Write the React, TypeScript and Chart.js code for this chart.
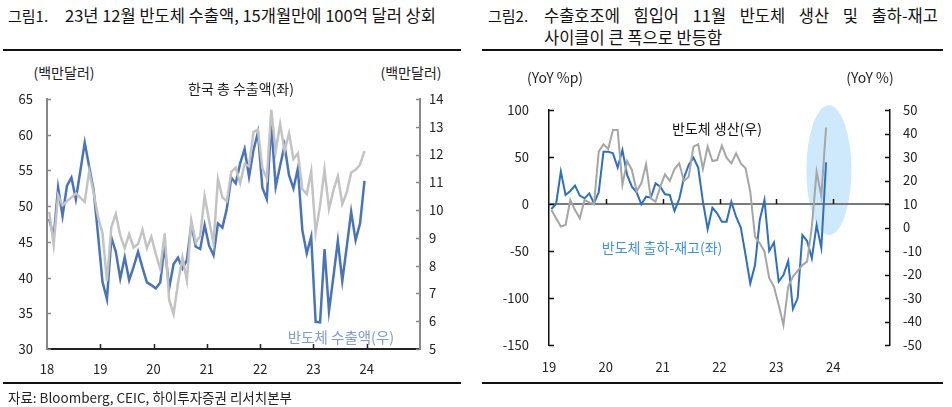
import React, { useEffect, useRef } from 'react';
import { Chart, registerables } from 'chart.js';
Chart.register(...registerables);

const FONT = '"Noto Sans CJK KR", "Noto Sans", sans-serif';

// ---- Figure 1: Korean exports (left, bn USD) and semiconductor exports (right, bn USD), monthly from Jan 2018
const years1 = ['18', '19', '20', '21', '22', '23', '24'];
const totalExports = [
  49.2, 44.6, 51.5, 50.1, 50.7, 51.2, 51.8, 51.2, 50.6, 54.9, 51.9, 48.5,
  46.2, 39.5, 47.1, 48.9, 45.9, 44.1, 46.1, 44.2, 44.7, 46.7, 44.1, 45.7,
  43.3, 41.2, 46.2, 36.9, 34.9, 39.2, 42.8, 39.6, 48.0, 44.9, 45.8, 51.4,
  48.0, 44.8, 53.8, 51.2, 50.7, 54.8, 55.4, 53.2, 55.9, 55.6, 60.4, 60.7,
  55.3, 53.9, 63.5, 57.7, 61.5, 57.7, 60.2, 56.6, 57.4, 52.4, 51.7, 54.9,
  46.3, 50.1, 55.1, 49.6, 52.2, 54.2, 50.3, 51.9, 54.7, 55.1, 55.8, 57.7,
];
const semiExports = [
  9.68, 9.01, 10.81, 9.79, 10.88, 11.17, 10.39, 11.4, 12.43, 11.56, 10.72, 9.1,
  7.42, 6.8, 9.01, 8.5, 7.54, 8.3, 7.48, 7.96, 8.5, 7.93, 7.4, 7.3,
  7.18, 7.39, 8.74, 7.18, 8.05, 8.29, 7.9, 8.2, 9.49, 8.68, 8.6, 9.46,
  8.72, 8.38, 9.52, 9.37, 10.06, 11.17, 10.96, 11.68, 12.2, 11.2, 12.16, 12.8,
  10.81, 10.4, 13.12, 10.84, 11.6, 12.34, 11.26, 10.78, 11.5, 9.28, 8.44, 9.04,
  5.98, 5.96, 8.6, 6.37, 7.6, 8.89, 7.45, 8.68, 9.94, 8.92, 9.52, 11.05,
];

// ---- Figure 2: semiconductor shipment-inventory gap (left, %p) and production (right, %), monthly from Jan 2019
const years2 = ['19', '20', '21', '22', '23', '24'];
const shipInvGap = [
  -5.3, 0, 34.4, 9.6, 13.8, 19.5, 8.9, 6.0, 11.3, 0.7, 12.4, 55.7,
  55.7, 53.9, 38.7, 57.4, 30.9, 18.4, 12.4, -0.4, 7.8, 6.7, 22.0, 18.4,
  10.3, 9.6, -7.4, 5.3, 28.0, 41.5, 49.3, 38.7, 2.5, -26.6, -3.9, -9.9,
  -18.8, -18.8, 2.5, -13.5, -25.2, -54.3, -84.4, -64.9, -17.0, 4.3, -50.0, -40.8,
  -82.6, -75.5, -60.6, -111.7, -100.4, -33.0, -39.4, -57.8, -22.3, -46.5, 44.3,
];
const semiProduction = [
  7.4, 3.9, 0.4, 1.1, 11.7, 7.4, 3.9, 11.7, 10.7, 9.9, 32.3, 35.4,
  33.4, 41.5, 41.5, 18.1, 28.3, 24.5, 15.5, 18.8, 26.9, 12.4, 11.0, 17.4,
  22.6, 19.8, 24.9, 27.3, 19.8, 21.6, 34.4, 35.4, 24.9, 34.4, 28.3, 28.7,
  34.8, 29.7, 27.3, 31.6, 27.3, 25.2, 15.2, -3.9, -6.7, -10.3, -21.6, -25.2,
  -33.0, -41.5, -25.2, -20.9, -18.5, -16.0, -14.5, 0.4, 23.8, 13.5, 42.5,
];

const toPoints = (arr: number[]) => arr.map((v, i) => ({ x: i + 0.5, y: v }));

const axisDeco = {
  id: 'axisDeco',
  beforeDatasetsDraw(chart: any, _a: any, opts: any) {
    const { ctx, chartArea: a } = chart;
    if (opts.ellipse) {
      const e = opts.ellipse;
      const xs = chart.scales.x;
      const ys = chart.scales.y;
      const cx = xs.getPixelForValue(e.x);
      const cy = ys.getPixelForValue(e.y);
      const rx = Math.abs(xs.getPixelForValue(e.x + e.dx) - cx);
      const ry = Math.abs(ys.getPixelForValue(e.y + e.dy) - cy);
      ctx.save();
      ctx.fillStyle = e.color;
      ctx.beginPath();
      ctx.ellipse(cx, cy, rx, ry, 0, 0, Math.PI * 2);
      ctx.fill();
      ctx.restore();
    }
    if (opts.zeroLine) {
      const z = opts.zeroLine;
      const py = chart.scales.y.getPixelForValue(0);
      ctx.save();
      ctx.strokeStyle = z.color;
      ctx.lineWidth = z.width;
      ctx.beginPath();
      ctx.moveTo(a.left, py);
      ctx.lineTo(a.right, py);
      ctx.stroke();
      ctx.restore();
    }
  },
  afterDatasetsDraw(chart: any, _a: any, opts: any) {
    const { ctx, chartArea: a } = chart;
    (opts.ticks || []).forEach((t: any) => {
      const s = chart.scales[t.id];
      ctx.save();
      ctx.strokeStyle = t.color;
      ctx.lineWidth = t.width;
      s.ticks.forEach((tk: any) => {
        if (t.skip && t.skip.includes(tk.value)) return;
        const p = Math.round(s.getPixelForValue(tk.value)) + 0.5;
        ctx.beginPath();
        if (t.side === 'left') {
          ctx.moveTo(a.left, p);
          ctx.lineTo(a.left + t.len, p);
        } else if (t.side === 'right') {
          ctx.moveTo(a.right, p);
          ctx.lineTo(a.right - t.len, p);
        } else if (t.side === 'bottom') {
          ctx.moveTo(p, a.bottom);
          ctx.lineTo(p, a.bottom - t.len);
        } else if (t.side === 'zero') {
          const py = chart.scales.y.getPixelForValue(0);
          ctx.moveTo(p, py);
          ctx.lineTo(p, py - t.len);
        }
        ctx.stroke();
      });
      ctx.restore();
    });
  },
};

function ChartCanvas({ config, left, top, width, height }: any) {
  const ref = useRef<HTMLCanvasElement | null>(null);
  useEffect(() => {
    const c = new Chart(ref.current as HTMLCanvasElement, config);
    return () => c.destroy();
  }, []);
  return (
    <canvas
      ref={ref}
      width={width}
      height={height}
      style={{ position: 'absolute', left, top, width, height }}
    />
  );
}

const tickFont = { family: FONT, size: 13 };
const tickColor = '#222';

const fixW = (w: number) => (s: any) => {
  s.width = w;
  s.paddingTop = 0;
  s.paddingBottom = 0;
};
const fixH = (h: number) => (s: any) => {
  s.height = h;
  s.paddingLeft = 0;
  s.paddingRight = 0;
};

const config1: any = {
  type: 'line',
  data: {
    datasets: [
      {
        data: toPoints(totalExports),
        yAxisID: 'y',
        borderColor: '#c3c3c3',
        borderWidth: 2.5,
        pointRadius: 0,
        tension: 0,
      },
      {
        data: toPoints(semiExports),
        yAxisID: 'y1',
        borderColor: '#4a74b9',
        borderWidth: 2.5,
        pointRadius: 0,
        tension: 0,
      },
    ],
  },
  options: {
    responsive: false,
    animation: false,
    layout: { autoPadding: false, padding: { top: 9, left: 0, right: 0, bottom: 0 } },
    plugins: {
      legend: { display: false },
      tooltip: { enabled: false },
      axisDeco: {
        ticks: [
          { id: 'y', side: 'left', len: 4, color: '#888', width: 1.5 },
          { id: 'y1', side: 'right', len: 4, color: '#888', width: 1.5 },
          { id: 'x', side: 'bottom', len: 5, color: '#222', width: 1.5, skip: [0, 84] },
        ],
      },
    },
    scales: {
      x: {
        type: 'linear',
        min: 0,
        max: 84,
        afterFit: fixH(36),
        grid: { display: false, drawTicks: false },
        border: { display: true, color: '#222', width: 2 },
        ticks: {
          stepSize: 12,
          autoSkip: false,
          maxRotation: 0,
          padding: 12,
          font: tickFont,
          color: tickColor,
          callback: (v: number) => (v % 12 === 0 && v / 12 < years1.length ? years1[v / 12] : ''),
        },
      },
      y: {
        position: 'left',
        min: 30,
        max: 65,
        afterFit: fixW(47),
        grid: { display: false, drawTicks: false },
        border: { display: true, color: '#888', width: 2 },
        ticks: { stepSize: 5, padding: 14, font: tickFont, color: tickColor },
      },
      y1: {
        position: 'right',
        min: 5,
        max: 14,
        afterFit: fixW(56),
        grid: { display: false, drawTicks: false },
        border: { display: true, color: '#888', width: 2 },
        ticks: { stepSize: 1, padding: 9, font: tickFont, color: tickColor },
      },
    },
  },
  plugins: [axisDeco],
};

const config2: any = {
  type: 'line',
  data: {
    datasets: [
      {
        data: toPoints(semiProduction),
        yAxisID: 'y1',
        borderColor: '#a6a6a6',
        borderWidth: 2,
        pointRadius: 0,
        tension: 0,
      },
      {
        data: toPoints(shipInvGap),
        yAxisID: 'y',
        borderColor: '#2f6fc0',
        borderWidth: 2,
        pointRadius: 0,
        tension: 0,
      },
    ],
  },
  options: {
    responsive: false,
    animation: false,
    layout: { autoPadding: false, padding: { top: 15, left: 0, right: 0, bottom: 0 } },
    plugins: {
      legend: { display: false },
      tooltip: { enabled: false },
      axisDeco: {
        ellipse: { x: 59.1, y: 36, dx: 4.75, dy: 69, color: '#cde9fb' },
        zeroLine: { color: '#7a7a7a', width: 2 },
        ticks: [
          { id: 'y', side: 'left', len: 5, color: '#111', width: 1.5 },
          { id: 'y1', side: 'right', len: 5, color: '#111', width: 1.5 },
          { id: 'x', side: 'zero', len: 5, color: '#111', width: 1.5, skip: [0, 72] },
        ],
      },
    },
    scales: {
      x: {
        type: 'linear',
        min: 0,
        max: 72,
        afterFit: fixH(40),
        grid: { display: false, drawTicks: false },
        border: { display: false },
        ticks: {
          stepSize: 12,
          autoSkip: false,
          maxRotation: 0,
          padding: 14,
          font: tickFont,
          color: tickColor,
          callback: (v: number) => (v % 12 === 0 && v / 12 < years2.length ? years2[v / 12] : ''),
        },
      },
      y: {
        position: 'left',
        min: -150,
        max: 100,
        afterFit: fixW(73),
        grid: { display: false, drawTicks: false },
        border: { display: true, color: '#111', width: 1.5 },
        ticks: { stepSize: 50, padding: 20, font: tickFont, color: tickColor },
      },
      y1: {
        position: 'right',
        min: -50,
        max: 50,
        afterFit: fixW(62),
        grid: { display: false, drawTicks: false },
        border: { display: true, color: '#111', width: 1.5 },
        ticks: { stepSize: 10, padding: 13, font: tickFont, color: tickColor },
      },
    },
  },
  plugins: [axisDeco],
};

function T({ x, y, children, size = 14, color = '#222', align = 'left', style = {} }: any) {
  const tr = align === 'center' ? 'translate(-50%, -50%)' : align === 'right' ? 'translate(-100%, -50%)' : 'translate(0, -50%)';
  return (
    <div
      style={{
        position: 'absolute',
        left: x,
        top: y,
        transform: tr,
        fontFamily: FONT,
        fontSize: size,
        color,
        whiteSpace: 'nowrap',
        lineHeight: 1,
        ...style,
      }}
    >
      {children}
    </div>
  );
}

function Rule({ x1, x2, y }: any) {
  return <div style={{ position: 'absolute', left: x1, top: y - 1, width: x2 - x1, height: 2, background: '#111' }} />;
}

export default function App() {
  const words2 = ['수출호조에', '힘입어', '11월', '반도체', '생산', '및', '출하-재고'];
  return (
    <div style={{ position: 'absolute', left: 0, top: 0, width: 952, height: 407, background: '#fff', overflow: 'hidden' }}>
      {/* Figure 1 */}
      <T x={8} y={15} size={15} color="#111">그림1.</T>
      <T x={65} y={15} size={16.5} color="#111">23년 12월 반도체 수출액, 15개월만에 100억 달러 상회</T>
      <Rule x1={3} x2={461} y={50} />
      <ChartCanvas config={config1} left={0} top={90} width={476} height={295} />
      <T x={64} y={72} align="center">(백만달러)</T>
      <T x={411} y={72} align="center">(백만달러)</T>
      <T x={241} y={88} align="center">한국 총 수출액(좌)</T>
      <T x={341} y={337} align="center" color="#7f9ccc" size={14.5}>반도체 수출액(우)</T>
      <Rule x1={3} x2={461} y={383} />
      <T x={8} y={398} size={13.5} color="#222">자료: Bloomberg, CEIC, 하이투자증권 리서치본부</T>

      {/* Figure 2 */}
      <T x={488} y={15} size={15} color="#111">그림2.</T>
      <div
        style={{
          position: 'absolute',
          left: 544,
          top: 15,
          width: 394,
          transform: 'translate(0, -50%)',
          display: 'flex',
          justifyContent: 'space-between',
          fontFamily: FONT,
          fontSize: 16.5,
          lineHeight: 1,
          color: '#111',
          whiteSpace: 'nowrap',
        }}
      >
        {words2.map((w) => (
          <span key={w}>{w}</span>
        ))}
      </div>
      <T x={544} y={37} size={16.5} color="#111">사이클이 큰 폭으로 반등함</T>
      <Rule x1={482} x2={943} y={50} />
      <ChartCanvas config={config2} left={476} top={95} width={476} height={290} />
      <T x={555} y={77} align="center">(YoY %p)</T>
      <T x={870} y={77} align="center">(YoY %)</T>
      <T x={717} y={128} align="center" color="#111" size={14}>반도체 생산(우)</T>
      <T x={662} y={247} align="center" color="#3d93dc" size={14}>반도체 출하-재고(좌)</T>
      <Rule x1={482} x2={943} y={383} />
    </div>
  );
}
